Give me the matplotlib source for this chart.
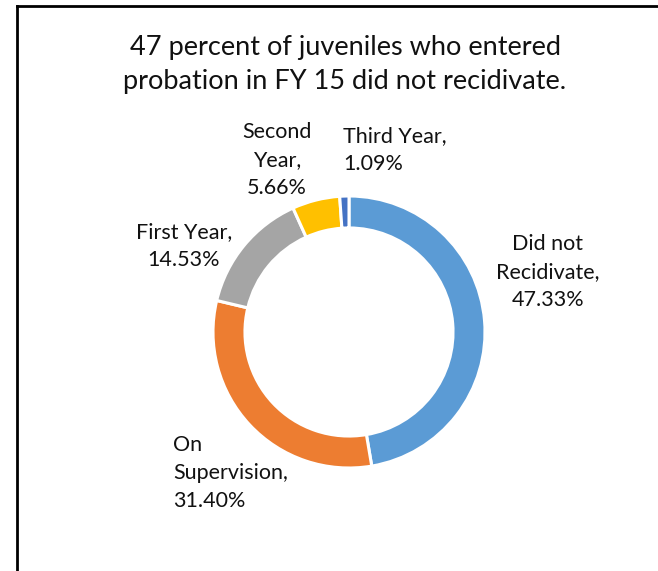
import matplotlib
matplotlib.use("Agg")
import matplotlib.pyplot as plt
from matplotlib.lines import Line2D

plt.rcParams["font.family"] = ["Lato", "DejaVu Sans"]

# Recidivism outcomes for juveniles entering probation in FY 15
categories = ["Did not\nRecidivate", "On\nSupervision", "First Year", "Second\nYear", "Third Year"]
values = [47.33, 31.40, 14.53, 5.66, 1.09]
colors = ["#5B9BD5", "#ED7D31", "#A5A5A5", "#FFC000", "#4472C4"]
title = "47 percent of juveniles who entered\nprobation in FY 15 did not recidivate."

W, H = 658, 571
fig = plt.figure(figsize=(W / 100, H / 100), dpi=100)
fig.patch.set_facecolor("white")

def fx(px):
    return px / W

def fy(py):
    return 1 - py / H

# chart frame (left and top edges)
fig.add_artist(Line2D([fx(16.5), fx(16.5)], [fy(5.5), fy(H + 5)], color="black", lw=2.0,
                      transform=fig.transFigure, solid_capstyle="projecting"))
fig.add_artist(Line2D([fx(16.5), fx(W + 5)], [fy(5.5), fy(5.5)], color="black", lw=2.0,
                      transform=fig.transFigure, solid_capstyle="projecting"))

# donut axes: centre and outer radius in pixels
cx, cy, R = 349, 332, 136
ax = fig.add_axes([fx(cx - R), fy(cy + R), 2 * R / W, 2 * R / H])
ax.pie(values, colors=colors, startangle=90, counterclock=False, radius=1.0,
       wedgeprops=dict(width=0.235, edgecolor="white", linewidth=2.2))
ax.set_xlim(-1, 1)
ax.set_ylim(-1, 1)
ax.set_aspect("auto")
ax.axis("off")

fig.text(fx(345), fy(65), title, ha="center", va="center", fontsize=19.5,
         linespacing=1.45, color="#111111")

# data label anchors (pixel x, pixel y of block centre, alignment)
label_pos = [
    (548, 272, "center"),
    (173, 473, "left"),
    (184, 246, "center"),
    (277, 160, "center"),
    (343, 150, "left"),
]
for name, val, (px, py, ha) in zip(categories, values, label_pos):
    fig.text(fx(px), fy(py), f"{name},\n{val:.2f}%", ha=ha, va="center",
             multialignment=ha, fontsize=15.5, linespacing=1.48, color="#111111")

fig.savefig("out.png", dpi=100, facecolor="white")
